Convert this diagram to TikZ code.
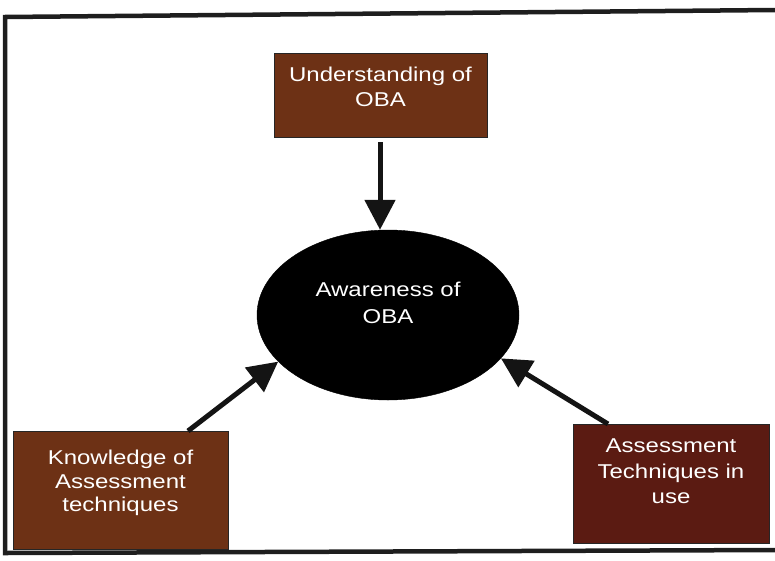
\documentclass[tikz,border=0pt]{standalone}
\usepackage{fontspec}
\setmainfont{Liberation Sans}
\newfontfamily\widesans[FakeStretch=1.2]{Liberation Sans}
\usetikzlibrary{arrows.meta,shapes.geometric}
\definecolor{boxbrown}{HTML}{6D3115}
\definecolor{boxmaroon}{HTML}{5B1B12}
\definecolor{framegray}{HTML}{1E1E1E}
\tikzset{
  factor/.style={draw=black!85, line width=0.8pt, fill=boxbrown, inner sep=0pt},
  caption/.style={text=white, align=center, inner sep=0pt,
    font=\widesans\fontsize{20}{25}\selectfont},
  hub/.style={ellipse, fill=black, draw=black, minimum width=262pt,
    minimum height=170pt, inner sep=0pt},
  link/.style={line width=5pt, -{Triangle[length=30pt,width=30pt]}, black!92},
}
\begin{document}
\begin{tikzpicture}[x=1pt,y=-1pt]
  \useasboundingbox (0,0) rectangle (775,560);
  % open frame on three sides
  \draw[framegray, line width=4.5pt] (775,10) -- (5,17) -- (5,553) -- (775,550);
  % factor boxes
  \node[factor, minimum width=213pt, minimum height=84pt] (under) at (380.5,95) {};
  \node[factor, minimum width=215pt, minimum height=118pt] (know) at (120.5,490) {};
  \node[factor, fill=boxmaroon, minimum width=196pt, minimum height=119pt] (tech) at (671,483.5) {};
  % central concept
  \node[hub] (aware) at (388,315) {};
  % texts
  \node[caption, yshift=8pt] (underT) at (under.center) {Understanding of\\OBA};
  \node[caption, yshift=7pt, font=\widesans\fontsize{20}{23.5}\selectfont] (knowT) at (know.center)
    {Knowledge of\\Assessment\\techniques};
  \node[caption, yshift=12pt, font=\widesans\fontsize{20}{25.5}\selectfont] (techT) at (tech.center)
    {Assessment\\Techniques in\\use};
  \node[caption, yshift=12pt, font=\widesans\fontsize{20}{27}\selectfont] (awareT) at (aware.center)
    {Awareness of\\OBA};
  % influences
  \coordinate (uA) at (380,142);
  \coordinate (kA) at (188,431);
  \coordinate (tA) at (608,424);
  \draw[link] (uA) -- (aware.north -| uA);
  \draw[link] (kA) -- (aware.-157);
  \draw[link] (tA) -- (aware.-21);
\end{tikzpicture}
\end{document}
